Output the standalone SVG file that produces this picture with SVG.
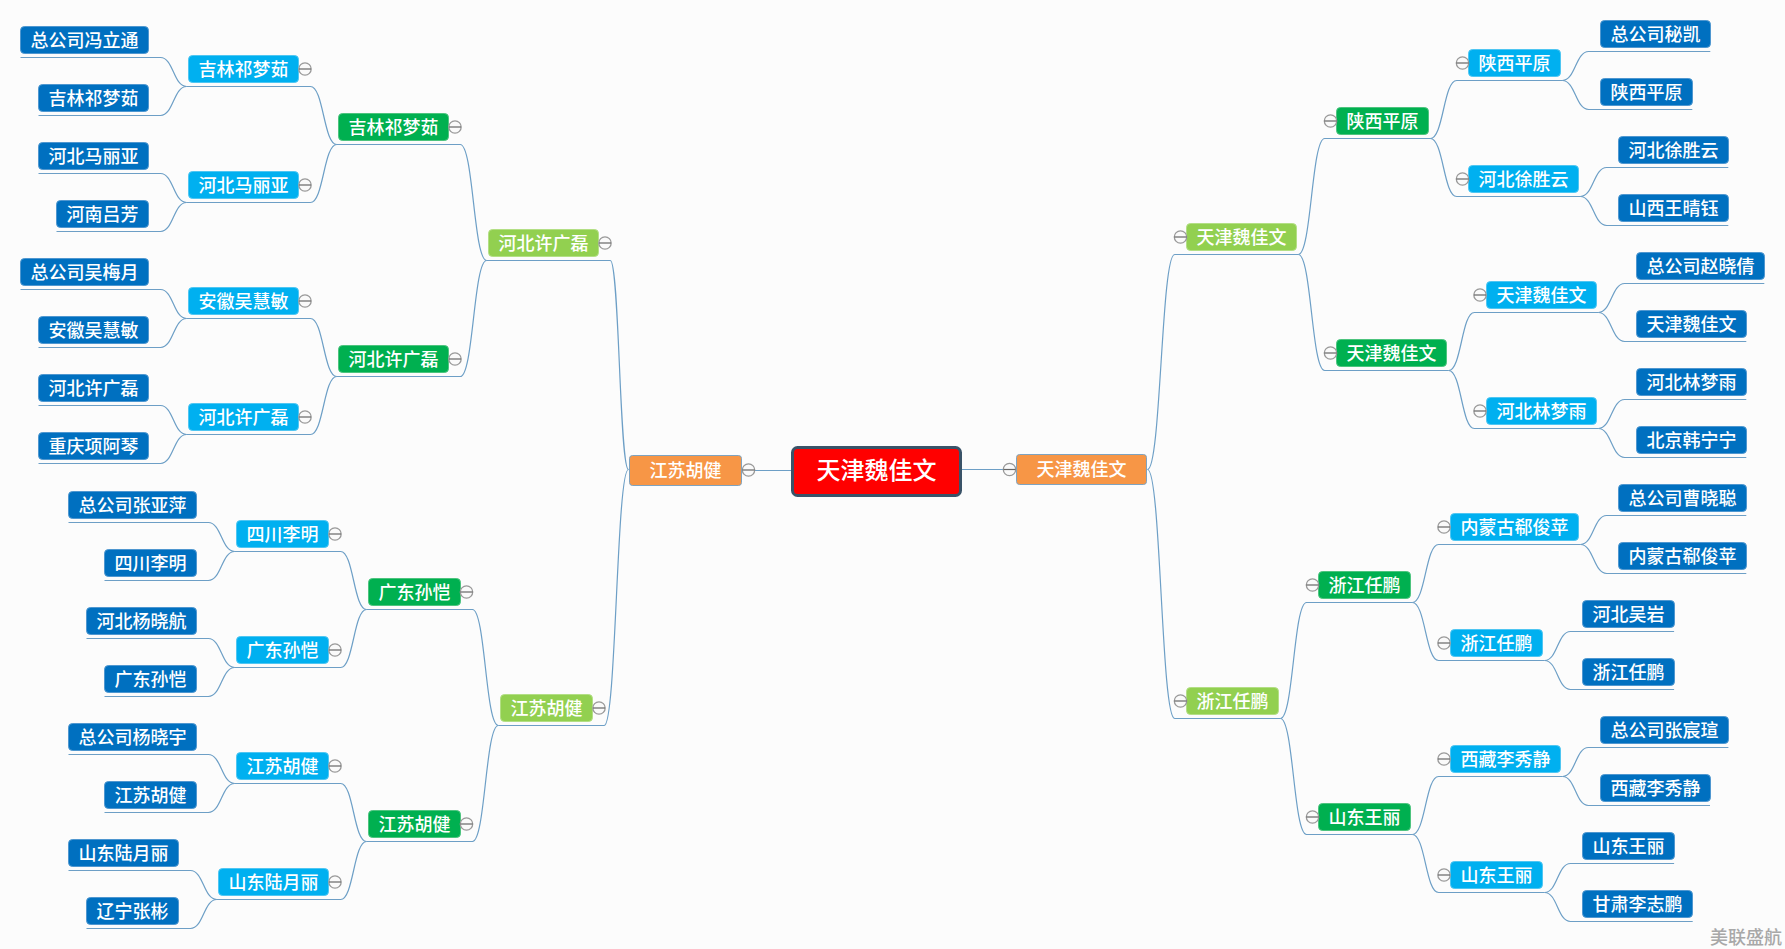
<svg xmlns="http://www.w3.org/2000/svg" width="1785" height="949" viewBox="0 0 1785 949">
<style>
text{font-family:"Noto Sans CJK SC","Liberation Sans",sans-serif;font-size:18px;font-weight:500;fill:#fff;text-anchor:middle}
.conn path{fill:none;stroke:#6d9fc6;stroke-width:1.2}
rect{stroke-width:1}
.leaf{fill:#0070c0;stroke:#4f97d0;}
.blue{fill:#00b0f0;stroke:#4fc6f2}
.green{fill:#00b050;stroke:#4dc47e}
.lime{fill:#92d050;stroke:#b3df85}
.orange{fill:#f79646;stroke:#7ea3c0}
.root{fill:#f00;stroke:#3a5368;stroke-width:3}
.wm{fill:#a8a8a8;text-anchor:start}
</style>
<defs>
<g id="fold"><circle r="6.2" fill="#fafafa" stroke="#999" stroke-width="1.3"/><path d="M-6 0H6" stroke="#666" stroke-width="1.2"/></g>
</defs>
<rect width="1785" height="949" fill="#fcfcfc" style="stroke:none"/>
<g id="connectors" class="conn">
<path d="M755 470.5H791"/>
<path d="M961 469.5H1003"/>
<path d="M628.5 469.5C619.4 469.5 619.4 260.5 610.3 260.5H486.7"/>
<path d="M628.5 469.5C616.4 469.5 616.4 725.5 604.2 725.5H498.4"/>
<path d="M486.7 260.5C473.5 260.5 473.5 144.5 460.2 144.5H336.8"/>
<path d="M486.7 260.5C473.5 260.5 473.5 376.5 460.2 376.5H336.8"/>
<path d="M498.4 725.5C485.4 725.5 485.4 609.5 472.4 609.5H366.6"/>
<path d="M498.4 725.5C485.4 725.5 485.4 841.5 472.4 841.5H366.6"/>
<path d="M336.8 144.5C323.6 144.5 323.6 86.5 310.4 86.5H186.6"/>
<path d="M336.8 144.5C323.6 144.5 323.6 202.5 310.4 202.5H186.6"/>
<path d="M336.8 376.5C323.6 376.5 323.6 318.5 310.4 318.5H186.6"/>
<path d="M336.8 376.5C323.6 376.5 323.6 434.5 310.4 434.5H186.6"/>
<path d="M366.6 609.5C353.6 609.5 353.6 551.5 340.6 551.5H234.7"/>
<path d="M366.6 609.5C353.6 609.5 353.6 667.5 340.6 667.5H234.7"/>
<path d="M366.6 841.5C353.6 841.5 353.6 783.5 340.6 783.5H234.7"/>
<path d="M366.6 841.5C353.6 841.5 353.6 899.5 340.6 899.5H216.8"/>
<path d="M186.6 86.5C173.5 86.5 173.5 57.5 160.5 57.5H20.5"/>
<path d="M186.6 86.5C173.5 86.5 173.5 115.5 160.5 115.5H38.5"/>
<path d="M186.6 202.5C173.5 202.5 173.5 173.5 160.5 173.5H38.5"/>
<path d="M186.6 202.5C173.5 202.5 173.5 231.5 160.5 231.5H56.5"/>
<path d="M186.6 318.5C173.5 318.5 173.5 289.5 160.5 289.5H20.5"/>
<path d="M186.6 318.5C173.5 318.5 173.5 347.5 160.5 347.5H38.5"/>
<path d="M186.6 434.5C173.5 434.5 173.5 405.5 160.5 405.5H38.5"/>
<path d="M186.6 434.5C173.5 434.5 173.5 463.5 160.5 463.5H38.5"/>
<path d="M234.7 551.5C221.5 551.5 221.5 522.5 208.3 522.5H68.5"/>
<path d="M234.7 551.5C221.5 551.5 221.5 580.5 208.3 580.5H104.5"/>
<path d="M234.7 667.5C221.5 667.5 221.5 638.5 208.3 638.5H86.5"/>
<path d="M234.7 667.5C221.5 667.5 221.5 696.5 208.3 696.5H104.5"/>
<path d="M234.7 783.5C221.5 783.5 221.5 754.5 208.3 754.5H68.5"/>
<path d="M234.7 783.5C221.5 783.5 221.5 812.5 208.3 812.5H104.5"/>
<path d="M216.8 899.5C203.6 899.5 203.6 870.5 190.4 870.5H68.5"/>
<path d="M216.8 899.5C203.6 899.5 203.6 928.5 190.4 928.5H86.5"/>
<path d="M1147.5 469.5C1161.1 469.5 1161.1 254.5 1174.7 254.5H1298.3"/>
<path d="M1147.5 469.5C1161.1 469.5 1161.1 718.5 1174.7 718.5H1280.4"/>
<path d="M1298.3 254.5C1311.5 254.5 1311.5 138.5 1324.7 138.5H1430.3"/>
<path d="M1298.3 254.5C1311.5 254.5 1311.5 370.5 1324.7 370.5H1448.6"/>
<path d="M1280.4 718.5C1293.5 718.5 1293.5 602.5 1306.6 602.5H1412.3"/>
<path d="M1280.4 718.5C1293.5 718.5 1293.5 834.5 1306.6 834.5H1412.3"/>
<path d="M1430.3 138.5C1443.5 138.5 1443.5 80.5 1456.7 80.5H1562.3"/>
<path d="M1430.3 138.5C1443.5 138.5 1443.5 196.5 1456.7 196.5H1580.3"/>
<path d="M1448.6 370.5C1461.5 370.5 1461.5 312.5 1474.4 312.5H1598.4"/>
<path d="M1448.6 370.5C1461.5 370.5 1461.5 428.5 1474.4 428.5H1598.4"/>
<path d="M1412.3 602.5C1425.5 602.5 1425.5 544.5 1438.6 544.5H1580.5"/>
<path d="M1412.3 602.5C1425.5 602.5 1425.5 660.5 1438.6 660.5H1544.6"/>
<path d="M1412.3 834.5C1425.5 834.5 1425.5 776.5 1438.6 776.5H1562.6"/>
<path d="M1412.3 834.5C1425.5 834.5 1425.5 892.5 1438.6 892.5H1544.6"/>
<path d="M1562.3 80.5C1575.5 80.5 1575.5 51.5 1588.7 51.5H1710.3"/>
<path d="M1562.3 80.5C1575.5 80.5 1575.5 109.5 1588.7 109.5H1692.3"/>
<path d="M1580.3 196.5C1593.5 196.5 1593.5 167.5 1606.7 167.5H1728.3"/>
<path d="M1580.3 196.5C1593.5 196.5 1593.5 225.5 1606.7 225.5H1728.3"/>
<path d="M1598.4 312.5C1611.5 312.5 1611.5 283.5 1624.7 283.5H1764.3"/>
<path d="M1598.4 312.5C1611.5 312.5 1611.5 341.5 1624.7 341.5H1746.3"/>
<path d="M1598.4 428.5C1611.5 428.5 1611.5 399.5 1624.7 399.5H1746.3"/>
<path d="M1598.4 428.5C1611.5 428.5 1611.5 457.5 1624.7 457.5H1746.3"/>
<path d="M1580.5 544.5C1593.6 544.5 1593.6 515.5 1606.7 515.5H1746.3"/>
<path d="M1580.5 544.5C1593.6 544.5 1593.6 573.5 1606.7 573.5H1746.3"/>
<path d="M1544.6 660.5C1557.5 660.5 1557.5 631.5 1570.5 631.5H1674.1"/>
<path d="M1544.6 660.5C1557.5 660.5 1557.5 689.5 1570.5 689.5H1674.1"/>
<path d="M1562.6 776.5C1575.5 776.5 1575.5 747.5 1588.4 747.5H1728.4"/>
<path d="M1562.6 776.5C1575.5 776.5 1575.5 805.5 1588.4 805.5H1710"/>
<path d="M1544.6 892.5C1557.5 892.5 1557.5 863.5 1570.5 863.5H1674.1"/>
<path d="M1544.6 892.5C1557.5 892.5 1557.5 921.5 1570.5 921.5H1692.7"/>
</g>
<g id="root"><rect class="root" x="792.5" y="447.5" width="168" height="48" rx="5"/><text x="876.5" y="479" style="font-size:24px">天津魏佳文</text></g>
<g id="o-l"><rect class="orange" x="629.5" y="455.5" width="112" height="30" rx="3"/><text x="685.5" y="477">江苏胡健</text><use href="#fold" x="748.5" y="470"/></g>
<g id="o-r"><rect class="orange" x="1016.5" y="454.5" width="130" height="30" rx="3"/><text x="1081.5" y="476">天津魏佳文</text><use href="#fold" x="1009.5" y="469.5"/></g>
<g id="l1"><rect class="lime" x="488.5" y="229.5" width="110" height="27" rx="4"/><text x="543.5" y="249.5">河北许广磊</text><use href="#fold" x="605" y="243"/></g>
<g id="l2"><rect class="lime" x="500.5" y="694.5" width="92" height="27" rx="4"/><text x="546.5" y="714.5">江苏胡健</text><use href="#fold" x="599" y="708"/></g>
<g id="r1"><rect class="lime" x="1186.5" y="223.5" width="110" height="27" rx="4"/><text x="1241.5" y="243.5">天津魏佳文</text><use href="#fold" x="1180.5" y="237"/></g>
<g id="r2"><rect class="lime" x="1186.5" y="687.5" width="92" height="27" rx="4"/><text x="1232.5" y="707.5">浙江任鹏</text><use href="#fold" x="1180.5" y="701"/></g>
<g id="lg1"><rect class="green" x="338.5" y="113.5" width="110" height="27" rx="4"/><text x="393.5" y="133.5">吉林祁梦茹</text><use href="#fold" x="455" y="127"/></g>
<g id="lg2"><rect class="green" x="338.5" y="345.5" width="110" height="27" rx="4"/><text x="393.5" y="365.5">河北许广磊</text><use href="#fold" x="455" y="359"/></g>
<g id="lg3"><rect class="green" x="368.5" y="578.5" width="92" height="27" rx="4"/><text x="414.5" y="598.5">广东孙恺</text><use href="#fold" x="466.5" y="592"/></g>
<g id="lg4"><rect class="green" x="368.5" y="810.5" width="92" height="27" rx="4"/><text x="414.5" y="830.5">江苏胡健</text><use href="#fold" x="466.5" y="824"/></g>
<g id="rg1"><rect class="green" x="1336.5" y="107.5" width="92" height="27" rx="4"/><text x="1382.5" y="127.5">陕西平原</text><use href="#fold" x="1330.5" y="121"/></g>
<g id="rg2"><rect class="green" x="1336.5" y="339.5" width="110" height="27" rx="4"/><text x="1391.5" y="359.5">天津魏佳文</text><use href="#fold" x="1330.5" y="353"/></g>
<g id="rg3"><rect class="green" x="1318.5" y="571.5" width="92" height="27" rx="4"/><text x="1364.5" y="591.5">浙江任鹏</text><use href="#fold" x="1312.5" y="585"/></g>
<g id="rg4"><rect class="green" x="1318.5" y="803.5" width="92" height="27" rx="4"/><text x="1364.5" y="823.5">山东王丽</text><use href="#fold" x="1312.5" y="817"/></g>
<g id="lb1"><rect class="blue" x="188.5" y="55.5" width="110" height="27" rx="4"/><text x="243.5" y="75.5">吉林祁梦茹</text><use href="#fold" x="305" y="69"/></g>
<g id="lb2"><rect class="blue" x="188.5" y="171.5" width="110" height="27" rx="4"/><text x="243.5" y="191.5">河北马丽亚</text><use href="#fold" x="305" y="185"/></g>
<g id="lb3"><rect class="blue" x="188.5" y="287.5" width="110" height="27" rx="4"/><text x="243.5" y="307.5">安徽吴慧敏</text><use href="#fold" x="305" y="301"/></g>
<g id="lb4"><rect class="blue" x="188.5" y="403.5" width="110" height="27" rx="4"/><text x="243.5" y="423.5">河北许广磊</text><use href="#fold" x="305" y="417"/></g>
<g id="lb5"><rect class="blue" x="236.5" y="520.5" width="92" height="27" rx="4"/><text x="282.5" y="540.5">四川李明</text><use href="#fold" x="335" y="534"/></g>
<g id="lb6"><rect class="blue" x="236.5" y="636.5" width="92" height="27" rx="4"/><text x="282.5" y="656.5">广东孙恺</text><use href="#fold" x="335" y="650"/></g>
<g id="lb7"><rect class="blue" x="236.5" y="752.5" width="92" height="27" rx="4"/><text x="282.5" y="772.5">江苏胡健</text><use href="#fold" x="335" y="766"/></g>
<g id="lb8"><rect class="blue" x="218.5" y="868.5" width="110" height="27" rx="4"/><text x="273.5" y="888.5">山东陆月丽</text><use href="#fold" x="335" y="882"/></g>
<g id="rb1"><rect class="blue" x="1468.5" y="49.5" width="92" height="27" rx="4"/><text x="1514.5" y="69.5">陕西平原</text><use href="#fold" x="1462.5" y="63"/></g>
<g id="rb2"><rect class="blue" x="1468.5" y="165.5" width="110" height="27" rx="4"/><text x="1523.5" y="185.5">河北徐胜云</text><use href="#fold" x="1462.5" y="179"/></g>
<g id="rb3"><rect class="blue" x="1486.5" y="281.5" width="110" height="27" rx="4"/><text x="1541.5" y="301.5">天津魏佳文</text><use href="#fold" x="1480" y="295"/></g>
<g id="rb4"><rect class="blue" x="1486.5" y="397.5" width="110" height="27" rx="4"/><text x="1541.5" y="417.5">河北林梦雨</text><use href="#fold" x="1480" y="411"/></g>
<g id="rb5"><rect class="blue" x="1450.5" y="513.5" width="128" height="27" rx="4"/><text x="1514.5" y="533.5">内蒙古郗俊苹</text><use href="#fold" x="1444" y="527"/></g>
<g id="rb6"><rect class="blue" x="1450.5" y="629.5" width="92" height="27" rx="4"/><text x="1496.5" y="649.5">浙江任鹏</text><use href="#fold" x="1444" y="643"/></g>
<g id="rb7"><rect class="blue" x="1450.5" y="745.5" width="110" height="27" rx="4"/><text x="1505.5" y="765.5">西藏李秀静</text><use href="#fold" x="1444" y="759"/></g>
<g id="rb8"><rect class="blue" x="1450.5" y="861.5" width="92" height="27" rx="4"/><text x="1496.5" y="881.5">山东王丽</text><use href="#fold" x="1444" y="875"/></g>
<g id="ll1"><rect class="leaf" x="20.5" y="26.5" width="128" height="27" rx="4"/><text x="84.5" y="46.5">总公司冯立通</text></g>
<g id="ll2"><rect class="leaf" x="38.5" y="84.5" width="110" height="27" rx="4"/><text x="93.5" y="104.5">吉林祁梦茹</text></g>
<g id="ll3"><rect class="leaf" x="38.5" y="142.5" width="110" height="27" rx="4"/><text x="93.5" y="162.5">河北马丽亚</text></g>
<g id="ll4"><rect class="leaf" x="56.5" y="200.5" width="92" height="27" rx="4"/><text x="102.5" y="220.5">河南吕芳</text></g>
<g id="ll5"><rect class="leaf" x="20.5" y="258.5" width="128" height="27" rx="4"/><text x="84.5" y="278.5">总公司吴梅月</text></g>
<g id="ll6"><rect class="leaf" x="38.5" y="316.5" width="110" height="27" rx="4"/><text x="93.5" y="336.5">安徽吴慧敏</text></g>
<g id="ll7"><rect class="leaf" x="38.5" y="374.5" width="110" height="27" rx="4"/><text x="93.5" y="394.5">河北许广磊</text></g>
<g id="ll8"><rect class="leaf" x="38.5" y="432.5" width="110" height="27" rx="4"/><text x="93.5" y="452.5">重庆项阿琴</text></g>
<g id="ll9"><rect class="leaf" x="68.5" y="491.5" width="128" height="27" rx="4"/><text x="132.5" y="511.5">总公司张亚萍</text></g>
<g id="ll10"><rect class="leaf" x="104.5" y="549.5" width="92" height="27" rx="4"/><text x="150.5" y="569.5">四川李明</text></g>
<g id="ll11"><rect class="leaf" x="86.5" y="607.5" width="110" height="27" rx="4"/><text x="141.5" y="627.5">河北杨晓航</text></g>
<g id="ll12"><rect class="leaf" x="104.5" y="665.5" width="92" height="27" rx="4"/><text x="150.5" y="685.5">广东孙恺</text></g>
<g id="ll13"><rect class="leaf" x="68.5" y="723.5" width="128" height="27" rx="4"/><text x="132.5" y="743.5">总公司杨晓宇</text></g>
<g id="ll14"><rect class="leaf" x="104.5" y="781.5" width="92" height="27" rx="4"/><text x="150.5" y="801.5">江苏胡健</text></g>
<g id="ll15"><rect class="leaf" x="68.5" y="839.5" width="110" height="27" rx="4"/><text x="123.5" y="859.5">山东陆月丽</text></g>
<g id="ll16"><rect class="leaf" x="86.5" y="897.5" width="92" height="27" rx="4"/><text x="132.5" y="917.5">辽宁张彬</text></g>
<g id="rl1"><rect class="leaf" x="1600.5" y="20.5" width="110" height="27" rx="4"/><text x="1655.5" y="40.5">总公司秘凯</text></g>
<g id="rl2"><rect class="leaf" x="1600.5" y="78.5" width="92" height="27" rx="4"/><text x="1646.5" y="98.5">陕西平原</text></g>
<g id="rl3"><rect class="leaf" x="1618.5" y="136.5" width="110" height="27" rx="4"/><text x="1673.5" y="156.5">河北徐胜云</text></g>
<g id="rl4"><rect class="leaf" x="1618.5" y="194.5" width="110" height="27" rx="4"/><text x="1673.5" y="214.5">山西王晴钰</text></g>
<g id="rl5"><rect class="leaf" x="1636.5" y="252.5" width="128" height="27" rx="4"/><text x="1700.5" y="272.5">总公司赵晓倩</text></g>
<g id="rl6"><rect class="leaf" x="1636.5" y="310.5" width="110" height="27" rx="4"/><text x="1691.5" y="330.5">天津魏佳文</text></g>
<g id="rl7"><rect class="leaf" x="1636.5" y="368.5" width="110" height="27" rx="4"/><text x="1691.5" y="388.5">河北林梦雨</text></g>
<g id="rl8"><rect class="leaf" x="1636.5" y="426.5" width="110" height="27" rx="4"/><text x="1691.5" y="446.5">北京韩宁宁</text></g>
<g id="rl9"><rect class="leaf" x="1618.5" y="484.5" width="128" height="27" rx="4"/><text x="1682.5" y="504.5">总公司曹晓聪</text></g>
<g id="rl10"><rect class="leaf" x="1618.5" y="542.5" width="128" height="27" rx="4"/><text x="1682.5" y="562.5">内蒙古郗俊苹</text></g>
<g id="rl11"><rect class="leaf" x="1582.5" y="600.5" width="92" height="27" rx="4"/><text x="1628.5" y="620.5">河北吴岩</text></g>
<g id="rl12"><rect class="leaf" x="1582.5" y="658.5" width="92" height="27" rx="4"/><text x="1628.5" y="678.5">浙江任鹏</text></g>
<g id="rl13"><rect class="leaf" x="1600.5" y="716.5" width="128" height="27" rx="4"/><text x="1664.5" y="736.5">总公司张宸瑄</text></g>
<g id="rl14"><rect class="leaf" x="1600.5" y="774.5" width="110" height="27" rx="4"/><text x="1655.5" y="794.5">西藏李秀静</text></g>
<g id="rl15"><rect class="leaf" x="1582.5" y="832.5" width="92" height="27" rx="4"/><text x="1628.5" y="852.5">山东王丽</text></g>
<g id="rl16"><rect class="leaf" x="1582.5" y="890.5" width="110" height="27" rx="4"/><text x="1637.5" y="910.5">甘肃李志鹏</text></g>
<text class="wm" x="1710" y="944">美联盛航</text>
</svg>
